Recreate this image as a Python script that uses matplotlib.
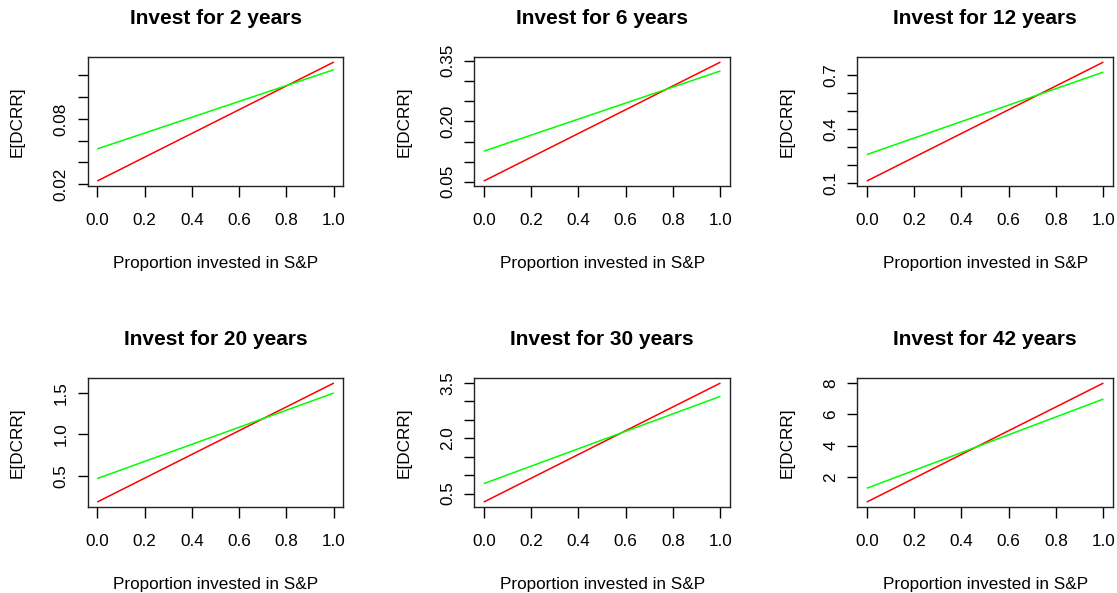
import matplotlib
matplotlib.use("Agg")
import matplotlib.pyplot as plt

plt.rcParams["font.family"] = ["Liberation Sans", "DejaVu Sans"]

# Investment horizons, one panel each
years = [2, 6, 12, 20, 30, 42]

# Proportion invested in S&P (line endpoints)
proportion = [0.0, 1.0]

# Expected DCRR at proportion 0 and 1 for each horizon
red_values = [
    [0.023, 0.132],
    [0.052, 0.347],
    [0.109, 0.774],
    [0.185, 1.62],
    [0.27, 3.50],
    [0.40, 8.00],
]
green_values = [
    [0.0524, 0.125],
    [0.126, 0.325],
    [0.257, 0.718],
    [0.468, 1.50],
    [0.77, 3.14],
    [1.28, 6.98],
]

# y tick positions and the labels shown (blank where labels are skipped)
y_ticks = [
    [0.02, 0.04, 0.06, 0.08, 0.10, 0.12],
    [0.05, 0.10, 0.15, 0.20, 0.25, 0.30, 0.35],
    [0.1, 0.2, 0.3, 0.4, 0.5, 0.6, 0.7],
    [0.5, 1.0, 1.5],
    [0.5, 1.0, 1.5, 2.0, 2.5, 3.0, 3.5],
    [2, 4, 6, 8],
]
y_tick_labels = [
    ["0.02", "", "", "0.08", "", ""],
    ["0.05", "", "", "0.20", "", "", "0.35"],
    ["0.1", "", "", "0.4", "", "", "0.7"],
    ["0.5", "1.0", "1.5"],
    ["0.5", "", "", "2.0", "", "", "3.5"],
    ["2", "4", "6", "8"],
]
x_ticks = [0.0, 0.2, 0.4, 0.6, 0.8, 1.0]
x_tick_labels = ["0.0", "0.2", "0.4", "0.6", "0.8", "1.0"]

W, H = 1117, 593
fig = plt.figure(figsize=(W / 100, H / 100), dpi=100)

col_left = [87.7, 474.3, 857.3]
row_top = [57.3, 378.3]
ax_w, ax_h = 255.6, 128.5

fs = 12.3
px = 0.72  # points per pixel at 100 dpi

for i, yr in enumerate(years):
    r, c = divmod(i, 3)
    left = col_left[c] / W
    bottom = 1 - (row_top[r] + ax_h) / H
    ax = fig.add_axes([left, bottom, ax_w / W, ax_h / H])

    red = red_values[i]
    green = green_values[i]
    ax.plot(proportion, red, color="#FF0000", lw=1.1, solid_capstyle="butt")
    ax.plot(proportion, green, color="#00FF00", lw=1.1, solid_capstyle="butt")

    lo, hi = min(red), max(red)
    span = hi - lo
    ax.set_xlim(-0.04, 1.04)
    ax.set_ylim(lo - 0.04 * span, hi + 0.04 * span)

    ax.set_xticks(x_ticks)
    ax.set_xticklabels(x_tick_labels, fontsize=fs)
    ax.set_yticks(y_ticks[i])
    ax.set_yticklabels(y_tick_labels[i], fontsize=fs, rotation=90, va="center")

    ax.tick_params(axis="x", length=11 * px, width=1.0, pad=11.5, colors="black")
    ax.tick_params(axis="y", length=10 * px, width=1.0, pad=6.5, colors="black")

    for s in ax.spines.values():
        s.set_linewidth(1.0)
        s.set_color("#222222")

    ax.text(0.5, 1 + 38.5 / ax_h, f"Invest for {yr} years", transform=ax.transAxes,
            ha="center", va="center", fontsize=15, fontweight="bold")
    ax.text(0.5, -77.3 / ax_h, "Proportion invested in S&P", transform=ax.transAxes,
            ha="center", va="center", fontsize=fs)
    ax.text(-70.2 / ax_w, 0.5, "E[DCRR]", transform=ax.transAxes, rotation=90,
            ha="center", va="center", fontsize=fs)

fig.savefig("out.png", dpi=100, facecolor="white")
